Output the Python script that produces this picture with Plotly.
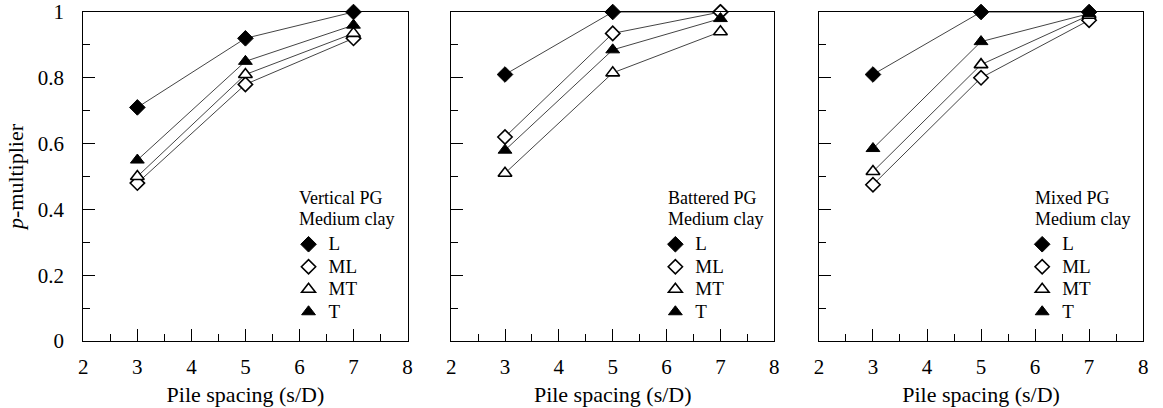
import plotly.graph_objects as go

spacing = [3, 5, 7]
series_names = ["L", "ML", "MT", "T"]
panel_titles = [("Vertical PG", "Medium clay"), ("Battered PG", "Medium clay"), ("Mixed PG", "Medium clay")]

vertical_L = [0.71, 0.92, 1.00]
vertical_ML = [0.48, 0.78, 0.92]
vertical_MT = [0.50, 0.81, 0.935]
vertical_T = [0.55, 0.85, 0.96]

battered_L = [0.81, 1.00, 1.00]
battered_ML = [0.62, 0.935, 1.00]
battered_MT = [0.51, 0.815, 0.94]
battered_T = [0.58, 0.885, 0.98]

mixed_L = [0.81, 1.00, 1.00]
mixed_ML = [0.475, 0.80, 0.975]
mixed_MT = [0.515, 0.84, 0.99]
mixed_T = [0.585, 0.91, 0.995]

panels = [
    [vertical_L, vertical_ML, vertical_MT, vertical_T],
    [battered_L, battered_ML, battered_MT, battered_T],
    [mixed_L, mixed_ML, mixed_MT, mixed_T],
]

W, H = 1163, 408
MT_, MB_ = 12, 67
PH = H - MT_ - MB_
FONT = "Liberation Serif, Times New Roman, serif"
styles = {
    "L": dict(symbol="diamond", color="black", size=12, line=dict(color="black", width=1)),
    "ML": dict(symbol="diamond", color="white", size=11, line=dict(color="black", width=1.6)),
    "MT": dict(symbol="triangle-up", color="white", size=12, line=dict(color="black", width=1.6)),
    "T": dict(symbol="triangle-up", color="black", size=12, line=dict(color="black", width=1)),
}

x_domains_px = [(79, 406), (450, 776), (821, 1148)]
title_left_px = [295, 667, 1037]
marker_center_px = [306, 676, 1046]


def py2paper(py):
    return 1 - (py - MT_) / PH


fig = go.Figure()
for i, data in enumerate(panels):
    xa = "x" if i == 0 else f"x{i+1}"
    ya = "y" if i == 0 else f"y{i+1}"
    lg = "legend" if i == 0 else f"legend{i+1}"
    for name, vals in zip(series_names, data):
        fig.add_trace(go.Scatter(
            x=spacing, y=vals, mode="lines+markers", xaxis=xa, yaxis=ya,
            line=dict(color="#444444", width=1), marker=styles[name],
            showlegend=False, cliponaxis=False, hoverinfo="skip"))
    for name in series_names:
        fig.add_trace(go.Scatter(
            x=[None], y=[None], mode="markers", xaxis=xa, yaxis=ya,
            marker=styles[name],
            name='<span style="font-size:19px">' + name + "</span>",
            legend=lg, showlegend=True))

layout = dict(
    width=W, height=H, margin=dict(l=0, r=0, t=MT_, b=MB_),
    paper_bgcolor="white", plot_bgcolor="white",
    font=dict(family=FONT, size=21, color="black"),
    annotations=[],
)
for i in range(3):
    sfx = "" if i == 0 else str(i + 1)
    d0, d1 = x_domains_px[i]
    layout["xaxis" + sfx] = dict(
        domain=[d0 / W, d1 / W], range=[2, 8], dtick=1, tick0=2,
        ticks="inside", ticklen=12, tickwidth=1, tickcolor="black",
        minor=dict(dtick=0.5, ticks="inside", ticklen=7, tickcolor="black", tickwidth=1),
        showline=True, linecolor="black", linewidth=1, mirror=True,
        showgrid=False, zeroline=False, anchor="y" + sfx, ticklabelstandoff=7,
        title=dict(text="Pile spacing (s/D)", font=dict(size=22), standoff=8),
        tickfont=dict(size=21),
    )
    layout["yaxis" + sfx] = dict(
        domain=[0, 1], range=[0, 1], dtick=0.2, tick0=0,
        ticks="inside", ticklen=12, tickwidth=1, tickcolor="black",
        minor=dict(dtick=0.1, ticks="inside", ticklen=7, tickcolor="black", tickwidth=1),
        showline=True, linecolor="black", linewidth=1, mirror=True,
        showgrid=False, zeroline=False, anchor="x" + sfx,
        showticklabels=(i == 0), ticklabelstandoff=14,
        tickfont=dict(size=21),
    )
    lg = "legend" if i == 0 else f"legend{i+1}"
    layout[lg] = dict(
        x=(marker_center_px[i] - 20) / W, y=py2paper(228), xanchor="left", yanchor="top",
        bgcolor="rgba(0,0,0,0)", borderwidth=0,
        font=dict(family=FONT, size=15, color="black"),
        itemsizing="trace", tracegroupgap=0,
    )
    for line_text, py in zip(panel_titles[i], (198, 219)):
        layout["annotations"].append(dict(
            text=line_text, xref="paper", yref="paper",
            x=title_left_px[i] / W, y=py2paper(py), xanchor="left", yanchor="middle",
            showarrow=False, align="left",
            font=dict(family=FONT, size=18, color="black"),
        ))
layout["yaxis"]["title"] = dict(text="<i>p</i>-multiplier", font=dict(size=22), standoff=8)
fig.update_layout(**layout)
fig.write_html("out.html", config={"displayModeBar": False},
               post_script="document.body.style.margin='0';")
